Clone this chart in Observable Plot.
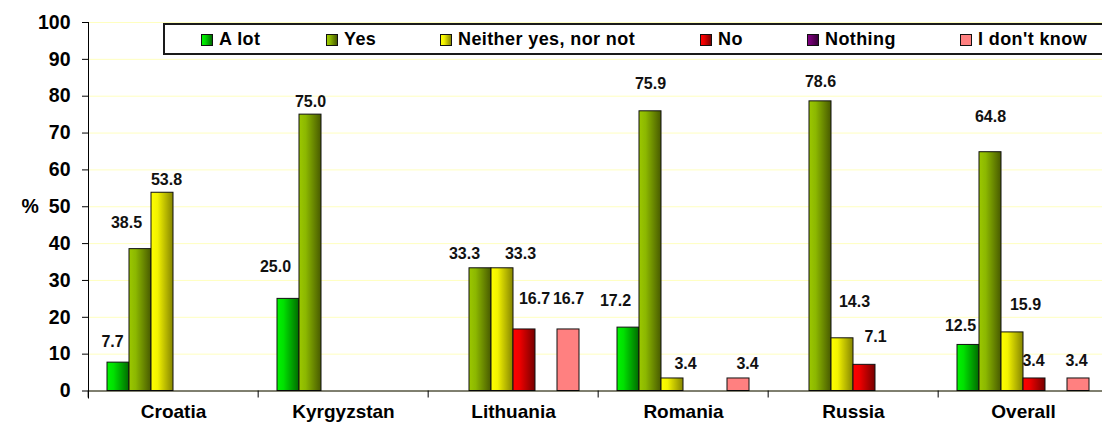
<!DOCTYPE html>
<html>
<head>
<meta charset="utf-8">
<script src="https://cdn.jsdelivr.net/npm/d3@7"></script>
<script src="https://cdn.jsdelivr.net/npm/@observablehq/plot@0.6"></script>
<style>
  html, body { margin: 0; padding: 0; background: #fff; overflow: hidden; }
  #wrap { position: relative; width: 1102px; height: 435px; overflow: hidden; font-family: "Liberation Sans", Arial, sans-serif; }
  #legend { position: absolute; left: 163px; top: 23px; width: 1000px; height: 28px; border: 2px solid #1a1a1a; background: #fff; box-sizing: content-box; }
  .item { position: absolute; top: 0; height: 29px; display: flex; align-items: center; font-weight: bold; font-size: 18px; letter-spacing: 0.4px; color: #000; white-space: nowrap; }
  .sw { width: 10px; height: 10px; border: 1px solid #111; margin-right: 6px; }
</style>
</head>
<body>
<div id="wrap"><div id="chart"></div><div id="legend"></div></div>
<script>
// ---- data ----
const countries = ["Croatia", "Kyrgyzstan", "Lithuania", "Romania", "Russia", "Overall"];
const seriesNames = ["A lot", "Yes", "Neither yes, nor not", "No", "Nothing", "I don't know"];
const aLot     = [7.7, 25.0, null, 17.2, null, 12.5];
const yes      = [38.5, 75.0, 33.3, 75.9, 78.6, 64.8];
const neither  = [53.8, null, 33.3, 3.4, 14.3, 15.9];
const no       = [null, null, 16.7, null, 7.1, 3.4];
const nothing  = [null, null, null, null, null, null];
const dontKnow = [null, null, 16.7, 3.4, null, 3.4];
const yTicks = [0, 10, 20, 30, 40, 50, 60, 70, 80, 90, 100];

// ---- styles ----
const gradients = [
  ["#00f500", "#00e000", "#006a00"],
  ["#9cc800", "#8cb800", "#485a00"],
  ["#ffff00", "#f2f200", "#858500"],
  ["#ff0000", "#ee0000", "#760000"],
  ["#800080", "#700070", "#3a003a"],
  ["#ff8080", "#ff8080", "#ff8080"]
];
// label nudges [dx, dy] in pixels relative to bar top centre (style only)
const labelNudge = {
  "Croatia|A lot": [-6, -21], "Croatia|Yes": [-14, -26], "Croatia|Neither yes, nor not": [4, -13],
  "Kyrgyzstan|A lot": [-13, -32], "Kyrgyzstan|Yes": [0, -13],
  "Lithuania|Yes": [-16, -14], "Lithuania|Neither yes, nor not": [18, -14], "Lithuania|No": [10, -31], "Lithuania|I don't know": [0, -31],
  "Romania|A lot": [-13, -27], "Romania|Yes": [0, -27], "Romania|Neither yes, nor not": [13, -15], "Romania|I don't know": [9, -15],
  "Russia|Yes": [0, -19], "Russia|Neither yes, nor not": [12, -36], "Russia|No": [11, -28],
  "Overall|A lot": [-8, -19], "Overall|Yes": [0, -35], "Overall|Neither yes, nor not": [13, -28], "Overall|No": [-1, -18], "Overall|I don't know": [-2, -18]
};

const seriesValues = [aLot, yes, neither, no, nothing, dontKnow];
const rows = countries.flatMap((c, ci) => seriesNames.map((s, si) => ({country: c, series: s, value: seriesValues[si][ci]})))
  .filter(d => d.value != null);

const W = 1102, H = 435, ML = 86, MR = -8;
const step = (W - ML - MR) / countries.length;

const labelMarks = rows.map(d => {
  const [dx, dy] = labelNudge[d.country + "|" + d.series] || [0, -13];
  return Plot.text([d], {fx: "country", x: "series", y: "value", text: r => r.value.toFixed(1), dx, dy, fontSize: 16, fontWeight: "bold", fill: "#111"});
});

const plot = Plot.plot({
  width: W, height: H,
  marginTop: 22, marginBottom: 44.5, marginLeft: ML, marginRight: MR,
  style: {fontFamily: "'Liberation Sans', Arial, sans-serif", fontWeight: "bold", color: "#000", background: "white", overflow: "visible"},
  fx: {domain: countries, padding: 0},
  x: {domain: seriesNames, paddingInner: 0, paddingOuter: 0.76, axis: null},
  y: {domain: [0, 100]},
  color: {domain: seriesNames, range: seriesNames.map((s, i) => i === 5 ? "#ff8080" : `url(#grad${i})`)},
  marks: [
    Plot.gridY(yTicks, {stroke: "#ffffc0", strokeOpacity: 1}),
    Plot.barY(rows, {fx: "country", x: "series", y: "value", fill: "series", stroke: "#111", strokeWidth: 1}),
    ...labelMarks,
    Plot.ruleY([0], {stroke: "#000"}),
    Plot.frame({anchor: "left", facetAnchor: "left", insetBottom: -7, stroke: "#000"}),
    Plot.axisY(yTicks, {tickSize: 6, tickPadding: 12, fontSize: 19.5, label: null}),
    Plot.axisFx({anchor: "bottom", tickSize: 0, tickPadding: 13, fontSize: 19, label: null}),
    Plot.axisFx({anchor: "bottom", tickSize: 7, tickFormat: () => "", dx: -step / 2, label: null}),
    Plot.text(["%"], {text: d => d, frameAnchor: "left", dx: -67, facetAnchor: "left", fontSize: 19.5, fontWeight: "bold"})
  ]
});

// gradients defs
const defs = d3.select(plot).insert("defs", ":first-child");
gradients.forEach((g, i) => {
  const lg = defs.append("linearGradient").attr("id", `grad${i}`).attr("x1", 0).attr("x2", 1).attr("y1", 0).attr("y2", 0);
  lg.append("stop").attr("offset", "0%").attr("stop-color", g[0]);
  lg.append("stop").attr("offset", "30%").attr("stop-color", g[1]);
  lg.append("stop").attr("offset", "100%").attr("stop-color", g[2]);
});
document.getElementById("chart").appendChild(plot);

// legend
const legendLeft = [36, 161, 275, 535, 642, 795];
const legend = document.getElementById("legend");
seriesNames.forEach((s, i) => {
  const it = document.createElement("div");
  it.className = "item";
  it.style.left = legendLeft[i] + "px";
  const sw = document.createElement("span");
  sw.className = "sw";
  const g = gradients[i];
  sw.style.background = `linear-gradient(to right, ${g[0]}, ${g[1]} 30%, ${g[2]})`;
  it.appendChild(sw);
  it.appendChild(document.createTextNode(s));
  legend.appendChild(it);
});
</script>
</body>
</html>
